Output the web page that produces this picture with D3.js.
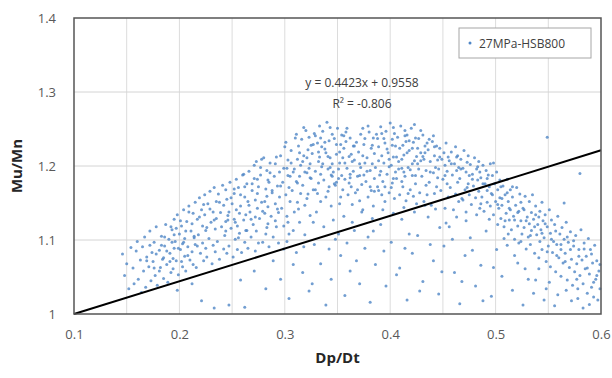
<!DOCTYPE html>
<html>
<head>
<meta charset="utf-8">
<script src="https://cdn.jsdelivr.net/npm/d3@7"></script>
<style>
  body { margin: 0; background: #fff; }
  text { font-family: "Open Sans", "Noto Sans", sans-serif; }
</style>
</head>
<body>
<div id="chart"></div>
<script>
// values: [Dp/Dt, Mu/Mn]
var points = [
  [0.146,1.081],[0.148,1.052],[0.150,1.068],[0.152,1.034],[0.154,1.090],
  [0.156,1.062],[0.157,1.041],[0.159,1.085],[0.160,1.098],[0.161,1.047],[0.163,1.073],[0.164,1.029],
  [0.165,1.091],[0.166,1.058],[0.167,1.104],[0.168,1.036],[0.169,1.077],[0.171,1.064],[0.172,1.112],[0.173,1.045],[0.174,1.083],
  [0.175,1.071],[0.176,1.097],[0.177,1.052],[0.178,1.118],[0.179,1.039],[0.181,1.086],[0.182,1.063],[0.183,1.105],[0.184,1.074],[0.185,1.048],
  [0.186,1.092],[0.187,1.121],[0.188,1.067],[0.189,1.043],[0.190,1.101],[0.191,1.082],[0.192,1.056],[0.193,1.114],[0.194,1.075],[0.195,1.128],[0.195,1.089],[0.194,1.061],
  [0.196,1.098],[0.197,1.072],[0.198,1.134],[0.199,1.053],[0.200,1.108],[0.201,1.087],[0.202,1.119],[0.203,1.064],[0.203,1.095],[0.204,1.141],[0.205,1.078],[0.205,1.102],
  [0.206,1.058],[0.207,1.125],[0.208,1.091],[0.209,1.146],[0.210,1.073],[0.211,1.112],[0.212,1.084],[0.213,1.136],[0.213,1.067],[0.214,1.103],[0.215,1.151],[0.215,1.094],
  [0.216,1.063],[0.217,1.128],[0.218,1.107],[0.219,1.157],[0.220,1.082],[0.221,1.141],[0.222,1.096],[0.222,1.119],[0.223,1.072],[0.224,1.161],[0.224,1.134],[0.225,1.089],[0.225,1.113],
  [0.226,1.077],[0.227,1.149],[0.228,1.102],[0.229,1.166],[0.230,1.124],[0.231,1.068],[0.232,1.138],[0.232,1.093],[0.233,1.171],[0.234,1.115],[0.234,1.084],[0.235,1.152],[0.235,1.129],
  [0.236,1.098],[0.237,1.162],[0.238,1.074],[0.239,1.137],[0.240,1.118],[0.241,1.174],[0.242,1.088],[0.242,1.147],[0.243,1.106],[0.244,1.168],[0.244,1.125],[0.245,1.082],[0.245,1.155],
  [0.246,1.133],[0.247,1.092],[0.248,1.178],[0.249,1.116],[0.250,1.149],[0.251,1.077],[0.252,1.163],[0.252,1.128],[0.253,1.101],[0.254,1.182],[0.254,1.141],[0.255,1.087],[0.255,1.119],
  [0.256,1.171],[0.257,1.109],[0.258,1.146],[0.259,1.083],[0.260,1.188],[0.261,1.127],[0.262,1.158],[0.262,1.097],[0.263,1.134],[0.264,1.176],[0.264,1.113],[0.265,1.152],[0.265,1.089],
  [0.266,1.193],[0.267,1.138],[0.268,1.104],[0.269,1.167],[0.270,1.121],[0.271,1.201],[0.272,1.085],[0.272,1.154],[0.273,1.112],[0.274,1.182],[0.274,1.143],[0.275,1.096],[0.275,1.172],[0.273,1.206],
  [0.276,1.129],[0.277,1.188],[0.278,1.151],[0.279,1.097],[0.280,1.211],[0.281,1.136],[0.282,1.169],[0.282,1.108],[0.283,1.194],[0.284,1.145],[0.284,1.122],[0.285,1.178],[0.285,1.091],[0.283,1.159],
  [0.286,1.204],[0.287,1.132],[0.288,1.167],[0.289,1.104],[0.290,1.186],[0.291,1.149],[0.292,1.118],[0.292,1.212],[0.293,1.173],[0.294,1.137],[0.294,1.096],[0.295,1.192],[0.295,1.158],[0.291,1.126],
  [0.296,1.214],[0.297,1.143],[0.298,1.178],[0.299,1.119],[0.300,1.226],[0.301,1.161],[0.302,1.197],[0.302,1.132],[0.303,1.208],[0.304,1.171],[0.304,1.108],[0.305,1.186],[0.305,1.152],[0.301,1.232],[0.303,1.124],
  [0.306,1.221],[0.307,1.167],[0.308,1.192],[0.309,1.138],[0.310,1.238],[0.311,1.179],[0.312,1.209],[0.312,1.151],[0.313,1.227],[0.314,1.186],[0.314,1.124],[0.315,1.201],[0.315,1.163],[0.311,1.243],[0.313,1.142],
  [0.316,1.236],[0.317,1.174],[0.318,1.214],[0.319,1.147],[0.320,1.248],[0.321,1.191],[0.322,1.222],[0.322,1.162],[0.323,1.239],[0.324,1.203],[0.324,1.133],[0.325,1.183],[0.325,1.228],[0.321,1.156],[0.323,1.197],[0.318,1.252],
  [0.326,1.217],[0.327,1.168],[0.328,1.244],[0.329,1.193],[0.330,1.138],[0.331,1.231],[0.332,1.206],[0.332,1.177],[0.333,1.254],[0.334,1.189],[0.334,1.152],[0.335,1.226],[0.335,1.199],[0.331,1.163],[0.329,1.241],[0.333,1.212],
  [0.336,1.247],[0.337,1.181],[0.338,1.223],[0.339,1.158],[0.340,1.259],[0.341,1.196],[0.342,1.234],[0.342,1.172],[0.343,1.211],[0.344,1.188],[0.344,1.146],[0.345,1.243],[0.345,1.203],[0.341,1.166],[0.339,1.218],[0.343,1.252],
  [0.346,1.192],[0.347,1.237],[0.348,1.174],[0.349,1.216],[0.350,1.251],[0.351,1.183],[0.352,1.204],[0.352,1.149],[0.353,1.229],[0.354,1.187],[0.354,1.242],[0.355,1.168],[0.355,1.211],[0.351,1.196],[0.349,1.178],[0.353,1.158],
  [0.356,1.224],[0.357,1.182],[0.358,1.246],[0.359,1.197],[0.360,1.161],[0.361,1.213],[0.362,1.189],[0.362,1.238],[0.363,1.172],[0.364,1.206],[0.364,1.148],[0.365,1.227],[0.365,1.193],[0.361,1.177],[0.359,1.251],
  [0.366,1.208],[0.367,1.164],[0.368,1.232],[0.369,1.186],[0.370,1.219],[0.371,1.153],[0.372,1.243],[0.372,1.198],[0.373,1.175],[0.374,1.214],[0.374,1.141],[0.375,1.229],[0.375,1.188],[0.371,1.203],[0.369,1.168],
  [0.376,1.237],[0.377,1.179],[0.378,1.211],[0.379,1.158],[0.380,1.246],[0.381,1.194],[0.382,1.224],[0.382,1.167],[0.383,1.203],[0.384,1.146],[0.384,1.238],[0.385,1.183],[0.385,1.217],[0.381,1.172],[0.379,1.254],
  [0.386,1.198],[0.387,1.243],[0.388,1.172],[0.389,1.226],[0.390,1.188],[0.391,1.253],[0.392,1.161],[0.392,1.214],[0.393,1.179],[0.394,1.237],[0.394,1.204],[0.395,1.152],[0.395,1.231],[0.391,1.193],[0.389,1.167],
  [0.396,1.247],[0.397,1.189],[0.398,1.218],[0.399,1.164],[0.400,1.258],[0.401,1.201],[0.402,1.236],[0.402,1.177],[0.403,1.212],[0.404,1.156],[0.404,1.244],[0.405,1.192],[0.405,1.227],[0.401,1.171],[0.399,1.209],[0.403,1.252],
  [0.406,1.183],[0.407,1.239],[0.408,1.206],[0.409,1.161],[0.410,1.254],[0.411,1.197],[0.412,1.228],[0.412,1.172],[0.413,1.215],[0.414,1.248],[0.414,1.186],[0.415,1.153],[0.415,1.233],[0.411,1.209],[0.409,1.224],[0.413,1.192],
  [0.416,1.242],[0.417,1.198],[0.418,1.221],[0.419,1.168],[0.420,1.251],[0.421,1.187],[0.422,1.232],[0.422,1.159],[0.423,1.207],[0.424,1.176],[0.424,1.238],[0.425,1.213],[0.425,1.149],[0.421,1.224],[0.419,1.195],[0.423,1.256],
  [0.426,1.203],[0.427,1.237],[0.428,1.164],[0.429,1.218],[0.430,1.186],[0.431,1.242],[0.432,1.152],[0.432,1.209],[0.433,1.227],[0.434,1.174],[0.434,1.194],[0.435,1.231],[0.435,1.161],[0.431,1.213],[0.429,1.248],
  [0.436,1.222],[0.437,1.178],[0.438,1.206],[0.439,1.147],[0.440,1.233],[0.441,1.191],[0.442,1.214],[0.442,1.163],[0.443,1.198],[0.444,1.227],[0.444,1.172],[0.445,1.208],[0.445,1.184],[0.441,1.241],
  [0.446,1.196],[0.447,1.224],[0.448,1.167],[0.449,1.209],[0.450,1.182],[0.451,1.218],[0.452,1.143],[0.452,1.201],[0.453,1.231],[0.454,1.176],[0.454,1.193],[0.455,1.212],[0.455,1.158],
  [0.456,1.207],[0.457,1.171],[0.458,1.219],[0.459,1.188],[0.460,1.141],[0.461,1.203],[0.462,1.226],[0.462,1.162],[0.463,1.194],[0.464,1.178],[0.464,1.214],[0.465,1.152],[0.465,1.198],
  [0.466,1.183],[0.467,1.209],[0.468,1.156],[0.469,1.197],[0.470,1.221],[0.471,1.168],[0.472,1.192],[0.472,1.138],[0.473,1.205],[0.474,1.176],[0.474,1.214],[0.475,1.161],[0.475,1.187],
  [0.476,1.202],[0.477,1.148],[0.478,1.189],[0.479,1.173],[0.480,1.211],[0.481,1.157],[0.482,1.196],[0.482,1.134],[0.483,1.181],[0.484,1.206],[0.484,1.166],[0.485,1.192],[0.485,1.143],
  [0.486,1.184],[0.487,1.158],[0.488,1.201],[0.489,1.139],[0.490,1.176],[0.491,1.194],[0.492,1.151],[0.492,1.167],[0.493,1.188],[0.494,1.128],[0.494,1.172],[0.495,1.203],[0.495,1.146],
  [0.496,1.163],[0.497,1.187],[0.498,1.134],[0.499,1.176],[0.500,1.152],[0.501,1.192],[0.502,1.121],[0.502,1.168],[0.503,1.143],[0.504,1.181],[0.504,1.157],[0.505,1.129],[0.505,1.172],
  [0.506,1.147],[0.507,1.173],[0.508,1.118],[0.509,1.161],[0.510,1.136],[0.511,1.182],[0.512,1.108],[0.512,1.152],[0.513,1.127],[0.514,1.168],[0.514,1.141],[0.515,1.114],
  [0.516,1.158],[0.517,1.132],[0.518,1.101],[0.519,1.147],[0.520,1.171],[0.521,1.119],[0.522,1.139],[0.522,1.096],[0.523,1.162],[0.524,1.126],[0.524,1.151],[0.525,1.108],
  [0.526,1.143],[0.527,1.117],[0.528,1.159],[0.529,1.088],[0.530,1.131],[0.531,1.104],[0.532,1.152],[0.532,1.122],[0.533,1.094],[0.534,1.137],[0.534,1.113],[0.535,1.161],
  [0.536,1.128],[0.537,1.082],[0.538,1.146],[0.539,1.107],[0.540,1.121],[0.541,1.076],[0.542,1.139],[0.542,1.098],[0.543,1.114],[0.544,1.151],[0.544,1.087],[0.545,1.126],
  [0.546,1.103],[0.547,1.134],[0.548,1.071],[0.549,1.118],[0.550,1.092],[0.551,1.141],[0.552,1.064],[0.552,1.109],[0.553,1.127],[0.554,1.083],[0.555,1.098],
  [0.556,1.121],[0.557,1.057],[0.558,1.094],[0.559,1.132],[0.560,1.076],[0.561,1.108],[0.562,1.051],[0.562,1.087],[0.563,1.117],[0.564,1.069],[0.565,1.101],
  [0.566,1.082],[0.567,1.124],[0.568,1.046],[0.569,1.097],[0.570,1.063],[0.571,1.111],[0.572,1.074],[0.573,1.039],[0.574,1.092],[0.575,1.057],
  [0.576,1.106],[0.577,1.068],[0.578,1.034],[0.579,1.087],[0.580,1.052],[0.581,1.114],[0.582,1.073],[0.583,1.041],[0.584,1.096],[0.585,1.061],
  [0.586,1.078],[0.587,1.028],[0.588,1.102],[0.589,1.054],[0.590,1.087],[0.591,1.036],[0.592,1.069],[0.593,1.023],[0.594,1.093],
  [0.595,1.047],[0.596,1.072],[0.597,1.019],[0.598,1.058],[0.599,1.034],
  // sparse points under the band
  [0.198,1.032],[0.212,1.041],[0.221,1.018],[0.233,1.008],[0.247,1.012],[0.262,1.009],[0.258,1.046],[0.271,1.058],[0.282,1.034],[0.289,1.072],
  [0.296,1.047],[0.304,1.021],[0.311,1.083],[0.317,1.056],[0.323,1.031],[0.328,1.094],[0.334,1.068],[0.339,1.012],[0.344,1.047],[0.348,1.101],
  [0.353,1.079],[0.357,1.025],[0.362,1.058],[0.366,1.113],[0.371,1.041],[0.376,1.089],[0.381,1.016],[0.386,1.067],[0.391,1.121],[0.396,1.038],
  [0.401,1.097],[0.406,1.053],[0.411,1.128],[0.416,1.019],[0.421,1.082],[0.426,1.106],[0.431,1.044],[0.436,1.131],[0.441,1.072],[0.446,1.027],
  [0.451,1.092],[0.456,1.118],[0.461,1.056],[0.466,1.014],[0.471,1.079],[0.476,1.103],[0.481,1.038],[0.486,1.066],[0.491,1.112],[0.496,1.024],
  [0.501,1.087],[0.506,1.051],[0.511,1.093],[0.516,1.032],[0.521,1.069],[0.526,1.012],[0.531,1.047],[0.536,1.028],[0.541,1.061],[0.546,1.019],
  [0.551,1.043],[0.556,1.011],[0.572,1.018],[0.583,1.008],
  [0.302,1.098],[0.308,1.113],[0.319,1.107],[0.327,1.124],[0.337,1.118],[0.346,1.127],[0.356,1.132],[0.364,1.124],[0.373,1.138],[0.383,1.129],
  [0.393,1.141],[0.403,1.136],[0.413,1.144],[0.423,1.138],[0.433,1.147],[0.443,1.142],[0.453,1.123],[0.463,1.131],
  [0.549,1.239],[0.580,1.190],[0.565,1.150],
  // second pass over the dense parts
  [0.183,1.093],[0.197,1.116],[0.178,1.081],[0.204,1.097],[0.191,1.071],[0.212,1.122],[0.186,1.104],[0.208,1.079],[0.199,1.089],[0.176,1.062],
  [0.219,1.131],[0.193,1.097],[0.229,1.142],[0.201,1.126],[0.188,1.085],[0.214,1.105],[0.172,1.093],[0.226,1.117],[0.195,1.107],[0.209,1.138],
  [0.181,1.058],[0.217,1.092],[0.202,1.071],[0.233,1.127],[0.169,1.072],[0.223,1.148],[0.192,1.118],[0.206,1.112],[0.185,1.076],[0.238,1.151],
  [0.247,1.138],[0.262,1.172],[0.253,1.124],[0.271,1.183],[0.244,1.112],[0.286,1.191],[0.258,1.161],[0.279,1.139],[0.266,1.147],[0.291,1.203],
  [0.249,1.157],[0.274,1.163],[0.283,1.117],[0.257,1.136],[0.296,1.173],[0.268,1.128],[0.288,1.164],[0.252,1.169],[0.277,1.198],[0.263,1.113],
  [0.293,1.142],[0.269,1.176],[0.281,1.152],[0.246,1.127],[0.299,1.197],[0.278,1.209],[0.261,1.189],[0.284,1.181],[0.256,1.103],[0.272,1.131],
  [0.317,1.206],[0.338,1.232],[0.324,1.184],[0.352,1.219],[0.309,1.196],[0.366,1.227],[0.343,1.198],[0.329,1.168],[0.357,1.204],[0.314,1.218],
  [0.378,1.193],[0.347,1.176],[0.334,1.238],[0.362,1.184],[0.321,1.211],[0.389,1.207],[0.397,1.223],[0.406,1.212],[0.418,1.234],[0.427,1.196],
  [0.411,1.179],[0.433,1.218],[0.402,1.228],[0.424,1.187],[0.414,1.241],[0.438,1.192],[0.395,1.172],[0.429,1.207],[0.408,1.196],[0.442,1.226],
  [0.383,1.228],[0.371,1.187],[0.356,1.241],[0.341,1.213],[0.327,1.229],[0.312,1.177],[0.306,1.204],[0.319,1.192],[0.336,1.203],[0.349,1.229],
  [0.363,1.216],[0.376,1.204],[0.388,1.237],[0.399,1.199],[0.416,1.218],[0.421,1.203],[0.437,1.236],[0.447,1.212],[0.452,1.187],[0.458,1.203],
  [0.392,1.244],[0.374,1.251],[0.358,1.233],[0.332,1.219],[0.303,1.187],[0.345,1.186],[0.385,1.166],[0.403,1.183],[0.426,1.224],[0.417,1.163],
  [0.467,1.196],[0.478,1.182],[0.488,1.176],[0.497,1.161],[0.506,1.156],[0.513,1.143],[0.521,1.137],[0.529,1.126],[0.537,1.118],[0.544,1.109],
  [0.553,1.101],[0.562,1.094],[0.571,1.087],[0.579,1.078],[0.473,1.171],[0.483,1.199],[0.492,1.183],[0.502,1.148],[0.511,1.164],[0.518,1.127],
  [0.527,1.141],[0.533,1.106],[0.541,1.131],[0.549,1.084],[0.557,1.112],[0.566,1.071],[0.574,1.099],[0.587,1.062],[0.591,1.081],[0.596,1.052],
  [0.463,1.212],[0.469,1.154],[0.486,1.149],[0.498,1.204],[0.509,1.126],[0.516,1.172],[0.524,1.098],[0.538,1.134],[0.547,1.122],[0.558,1.079],
  [0.568,1.104],[0.577,1.047],[0.584,1.088],[0.593,1.043],[0.599,1.067],
  [0.308,1.067],[0.326,1.041],[0.342,1.088],[0.359,1.096],[0.368,1.072],[0.379,1.104],[0.394,1.085],[0.409,1.062],[0.418,1.108],[0.428,1.031],
  [0.438,1.094],[0.449,1.057],[0.459,1.101],[0.468,1.044],[0.478,1.086],[0.488,1.018],[0.498,1.063],[0.508,1.102],[0.518,1.079],[0.528,1.061],
  [0.538,1.046],[0.548,1.034],[0.559,1.026],[0.567,1.032],[0.578,1.021],[0.589,1.013],[0.299,1.088],[0.318,1.091],[0.351,1.108],[0.384,1.112],
  [0.414,1.089],[0.447,1.117],[0.472,1.126]
];

var seriesName = "27MPa-HSB800";
var slope = 0.4423, intercept = 0.9558, r2 = "-0.806";
var xTicks = [0.1, 0.2, 0.3, 0.4, 0.5, 0.6];
var xGrid = [0.15, 0.2, 0.25, 0.3, 0.35, 0.4, 0.45, 0.5, 0.55];
var yTicks = [1, 1.1, 1.2, 1.3, 1.4];

var width = 612, height = 378;
var margin = {top: 18, right: 11, bottom: 64, left: 74};

var svg = d3.select("#chart").append("svg")
  .attr("width", width)
  .attr("height", height);

var x = d3.scaleLinear().domain([0.1, 0.6]).range([margin.left, width - margin.right]);
var y = d3.scaleLinear().domain([1, 1.4]).range([height - margin.bottom, margin.top]);

// gridlines
svg.append("g").selectAll("line.vg")
  .data(xGrid)
  .enter().append("line")
  .attr("x1", function(d) { return x(d); })
  .attr("x2", function(d) { return x(d); })
  .attr("y1", y(1)).attr("y2", y(1.4))
  .attr("stroke", "#dcdcdc").attr("stroke-width", 1);

svg.append("g").selectAll("line.hg")
  .data(yTicks.slice(1, -1))
  .enter().append("line")
  .attr("x1", x(0.1)).attr("x2", x(0.6))
  .attr("y1", function(d) { return y(d); })
  .attr("y2", function(d) { return y(d); })
  .attr("stroke", "#d4d4d4").attr("stroke-width", 1);

// points
svg.append("g").selectAll("circle")
  .data(points)
  .enter().append("circle")
  .attr("cx", function(d) { return x(d[0]); })
  .attr("cy", function(d) { return y(d[1]); })
  .attr("r", 1.5)
  .attr("fill", "#4f86c6")
  .attr("fill-opacity", 0.8);

// trendline
svg.append("line")
  .attr("x1", x(0.1)).attr("y1", y(slope * 0.1 + intercept))
  .attr("x2", x(0.6)).attr("y2", y(slope * 0.6 + intercept))
  .attr("stroke", "#000").attr("stroke-width", 2);

// frame
svg.append("rect")
  .attr("x", x(0.1)).attr("y", y(1.4))
  .attr("width", x(0.6) - x(0.1))
  .attr("height", y(1) - y(1.4))
  .attr("fill", "none")
  .attr("stroke", "#555").attr("stroke-width", 1.5);

// axes
var xAxis = svg.append("g")
  .attr("transform", "translate(0," + y(1) + ")")
  .call(d3.axisBottom(x).tickValues(xTicks).tickSize(0).tickPadding(16).tickFormat(d3.format("")));
var yAxis = svg.append("g")
  .attr("transform", "translate(" + x(0.1) + ",0)")
  .call(d3.axisLeft(y).tickValues(yTicks).tickSize(0).tickPadding(18).tickFormat(d3.format("")));
[xAxis, yAxis].forEach(function(a) {
  a.select(".domain").remove();
  a.selectAll("text")
    .style("font-family", "'Open Sans', sans-serif")
    .style("font-size", "13px")
    .attr("fill", "#595959");
});

// axis titles
svg.append("text")
  .attr("x", (x(0.1) + x(0.6)) / 2).attr("y", 363)
  .attr("text-anchor", "middle")
  .style("font-size", "15px").style("font-weight", "bold")
  .attr("fill", "#262626")
  .text("Dp/Dt");

svg.append("text")
  .attr("transform", "translate(22," + y(1.2) + ") rotate(-90)")
  .attr("text-anchor", "middle")
  .style("font-size", "15px").style("font-weight", "bold")
  .attr("fill", "#262626")
  .text("Mu/Mn");

// equation
svg.append("text")
  .attr("x", 362).attr("y", 87)
  .attr("text-anchor", "middle")
  .style("font-size", "12px").attr("fill", "#404040")
  .text("y = " + slope + "x + " + intercept);
svg.append("text")
  .attr("x", 362).attr("y", 108)
  .attr("text-anchor", "middle")
  .style("font-size", "12px").attr("fill", "#404040")
  .text("R² = " + r2);

// legend
var legend = svg.append("g").attr("transform", "translate(459,28)");
legend.append("rect")
  .attr("width", 132).attr("height", 30)
  .attr("fill", "#fff")
  .attr("stroke", "#a6a6a6").attr("stroke-width", 1);
legend.append("circle")
  .attr("cx", 11).attr("cy", 15).attr("r", 1.5)
  .attr("fill", "#4f86c6");
legend.append("text")
  .attr("x", 20).attr("y", 19.5)
  .style("font-size", "12px").attr("fill", "#404040")
  .text(seriesName);
</script>
</body>
</html>
